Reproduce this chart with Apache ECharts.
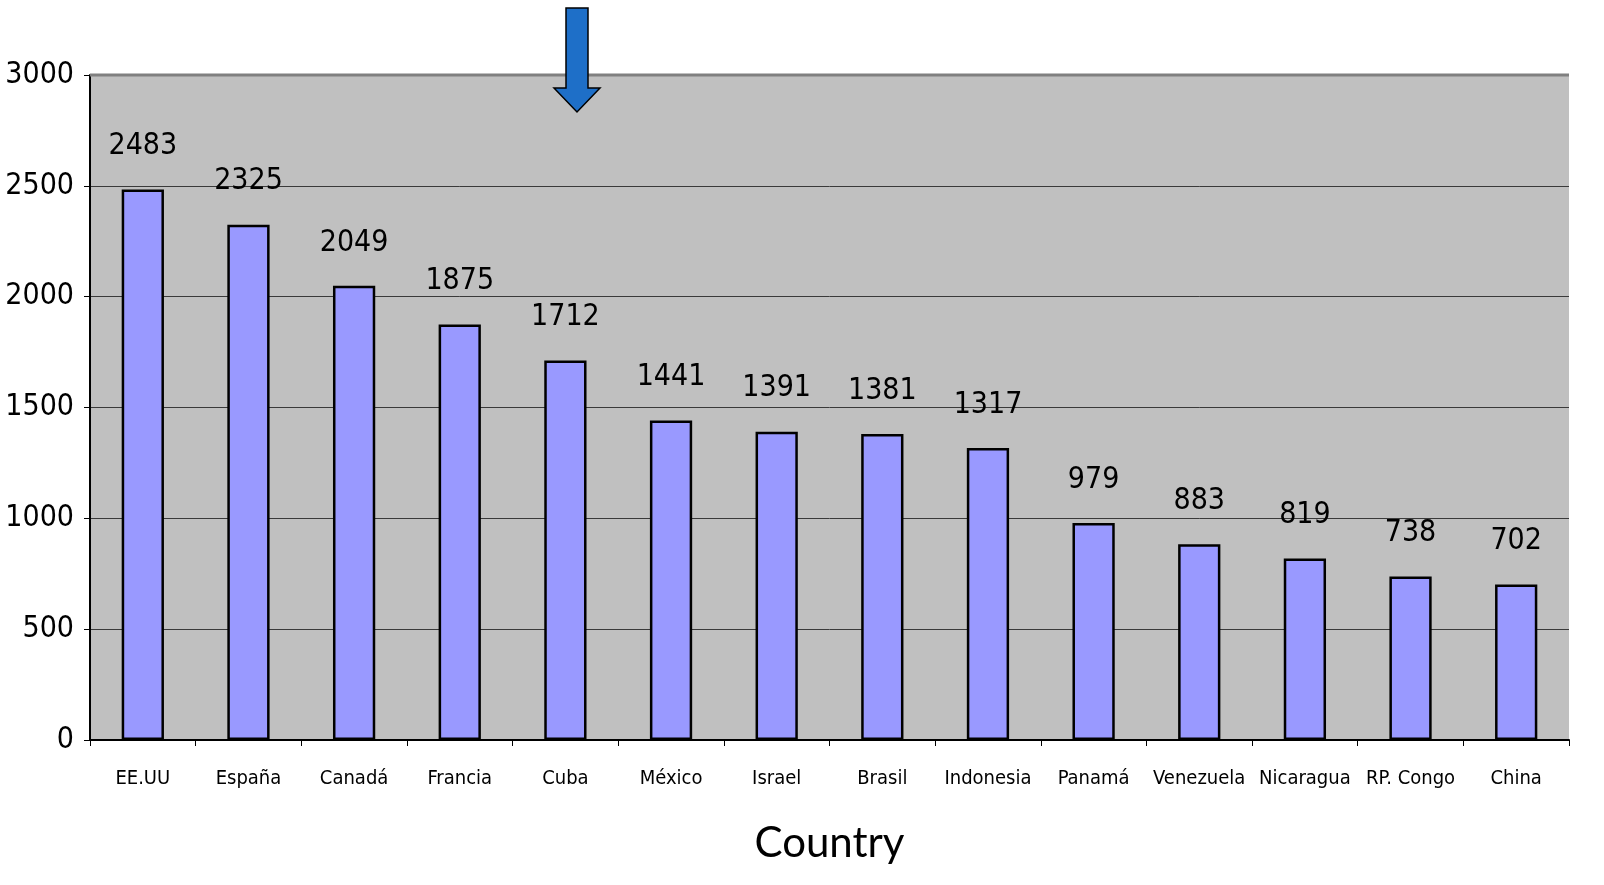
<!DOCTYPE html>
<html><head><meta charset="utf-8">
<script src="https://cdn.jsdelivr.net/npm/echarts@6/dist/echarts.min.js"></script>
<style>html,body{margin:0;padding:0;background:#fff}#c{width:1604px;height:885px}</style>
</head><body><div id="c"></div>
<script>
var categories = ['EE.UU','España','Canadá','Francia','Cuba','México','Israel','Brasil','Indonesia','Panamá','Venezuela','Nicaragua','RP. Congo','China'];
var values = [2483,2325,2049,1875,1712,1441,1391,1381,1317,979,883,819,738,702];
var yTicks = {min:0, max:3000, interval:500};
var xTitle = 'Country';
var narrow = '"DejaVu Sans Condensed","Liberation Sans Narrow",sans-serif';
var chart = echarts.init(document.getElementById('c'));
chart.setOption({
  animation:false,
  backgroundColor:'#fff',
  grid:{left:90, right:35, top:75, bottom:145, show:true, backgroundColor:'#C0C0C0', borderWidth:0, outerBoundsMode:'none', containLabel:false},
  xAxis:{type:'category', data:categories,
    name:xTitle, nameLocation:'middle', nameGap:82,
    nameTextStyle:{fontFamily:'Lato, "Open Sans", sans-serif', fontSize:42, color:'#000'},
    axisLine:{lineStyle:{color:'#000', width:2}},
    axisTick:{show:true, length:6, lineStyle:{color:'#000', width:1}},
    axisLabel:{interval:0, fontFamily:narrow, fontSize:20, color:'#000', margin:29}
  },
  yAxis:{type:'value', min:yTicks.min, max:yTicks.max, interval:yTicks.interval,
    axisLine:{show:true, lineStyle:{color:'#000', width:2}},
    axisTick:{show:true, length:6, lineStyle:{color:'#000', width:1}},
    axisLabel:{fontFamily:narrow, fontSize:30, color:'#000', margin:16, formatter:function(v){return String(v);}},
    splitLine:{lineStyle:{color:'#3a3a3a', width:1}}
  },
  series:[{type:'bar', data:values, barWidth:'40%',
    itemStyle:{color:'#9999FF', borderColor:'#000', borderWidth:2.5},
    label:{show:true, position:'top', distance:28, fontFamily:narrow, fontSize:30, color:'#000'}
  }],
  graphic:[
    {type:'line', shape:{x1:90, y1:75, x2:1569, y2:75}, style:{stroke:'#808080', lineWidth:3}, z:5},
    {type:'polygon', shape:{points:[[566,8],[588,8],[588,88],[600,88],[577,112],[554,88],[566,88]]},
     style:{fill:'#1E6FC8', stroke:'#000', lineWidth:1.5}, z:10}
  ]
});
</script></body></html>
